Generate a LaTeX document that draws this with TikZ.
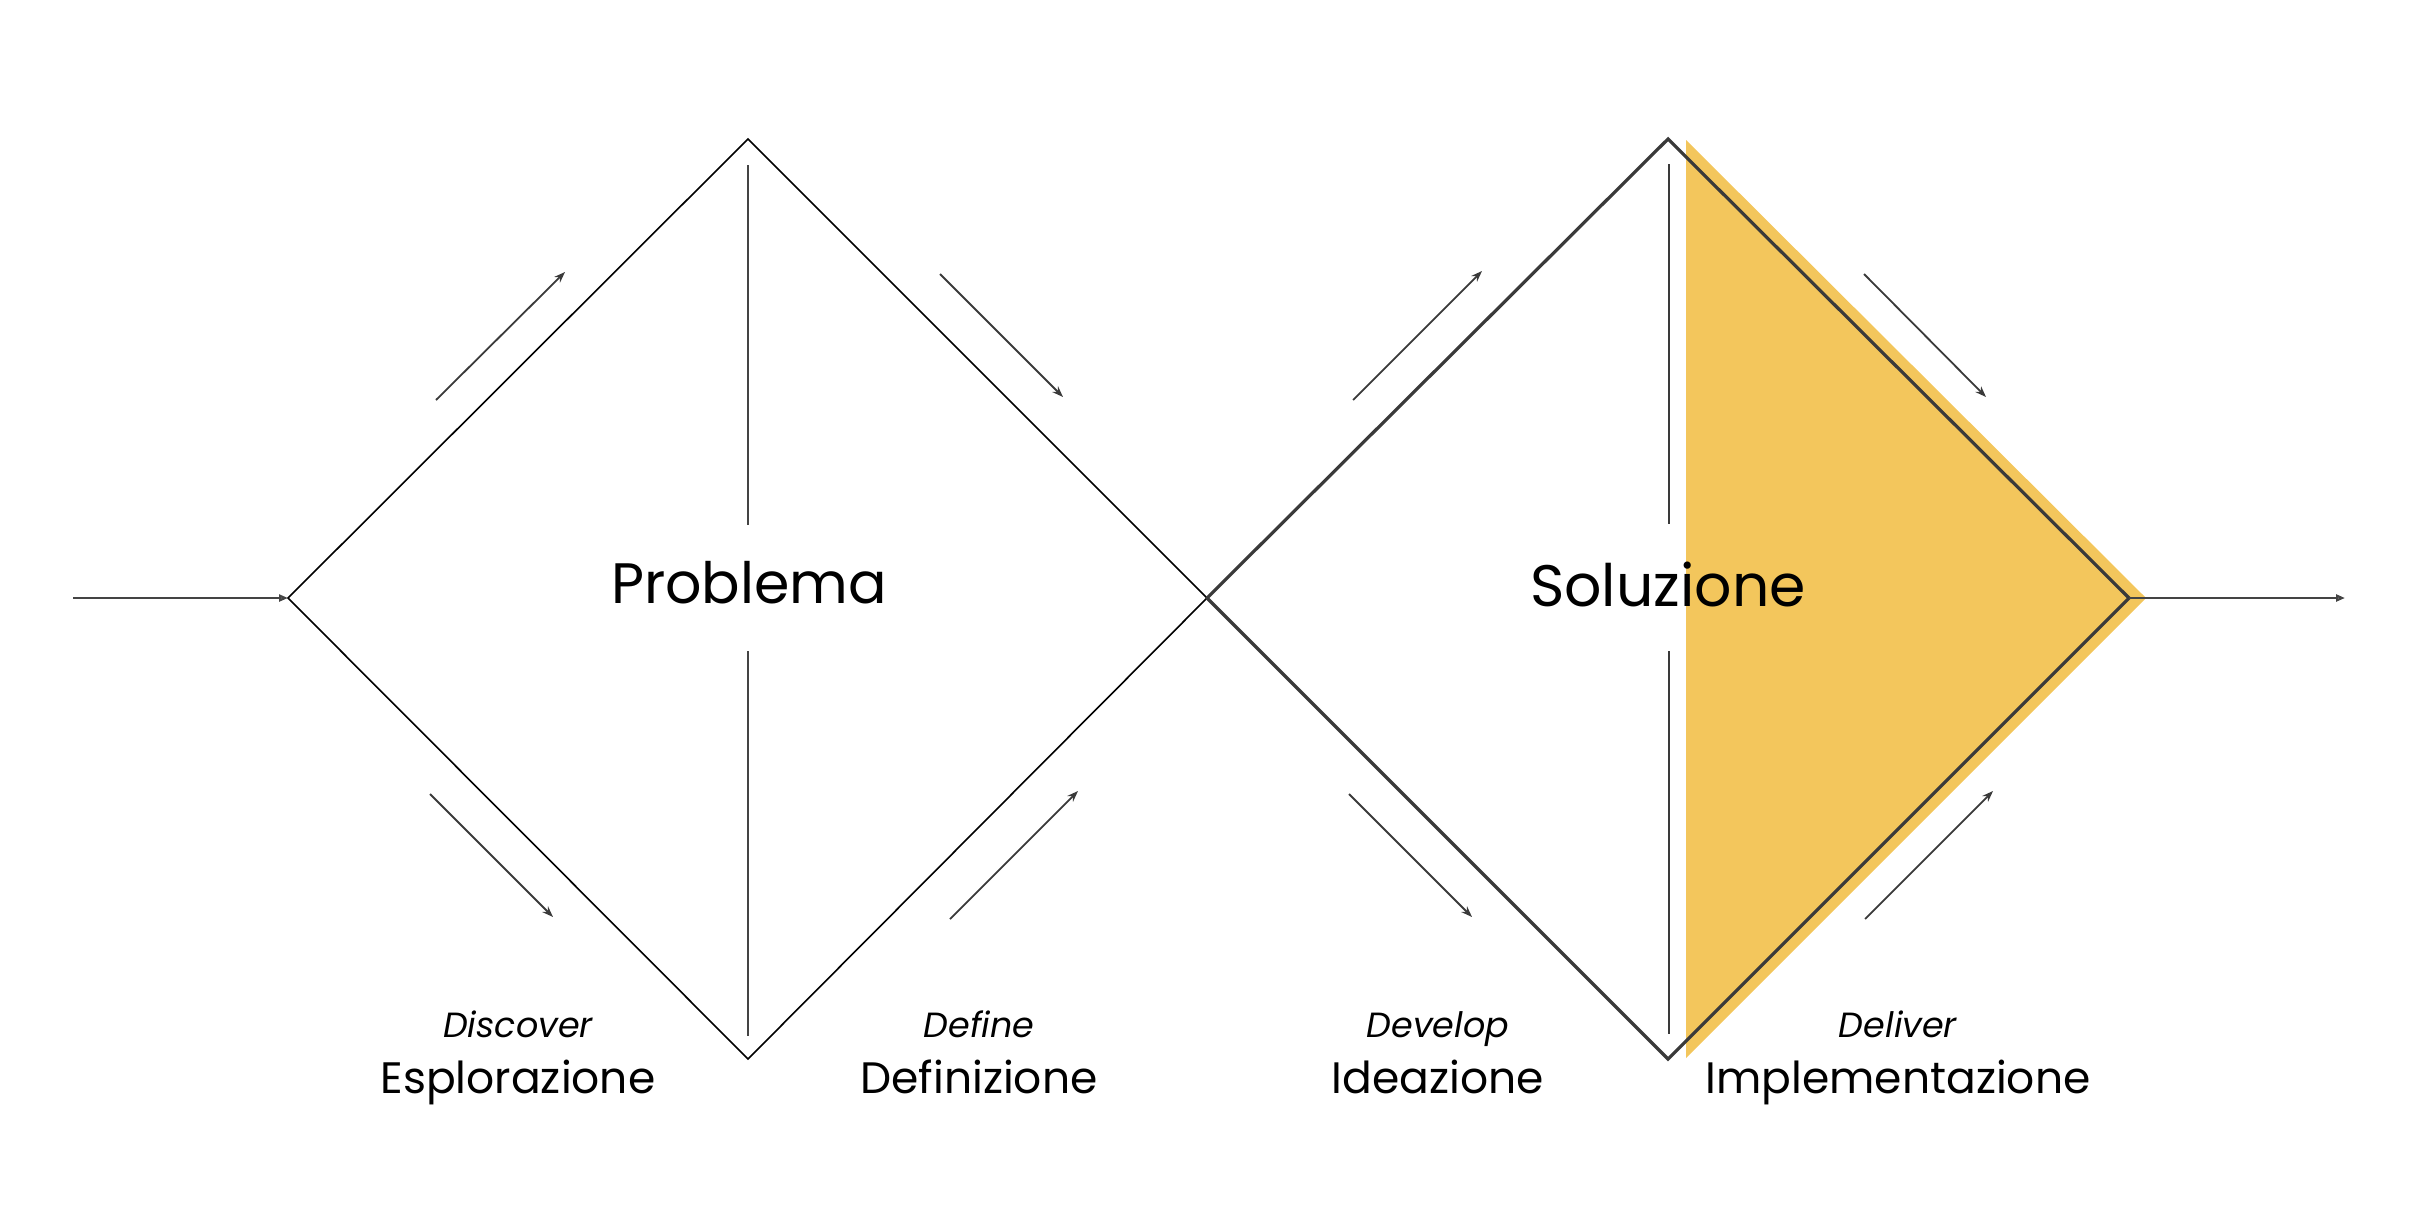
\documentclass[tikz,border=0pt]{standalone}
\usepackage{fontspec}
\setmainfont{Poppins}
\usetikzlibrary{arrows.meta}
\definecolor{dgold}{HTML}{F3C65C}
\definecolor{dline}{HTML}{3A3A3A}
\definecolor{gline}{HTML}{444444}
\tikzset{
  thinedge/.style={draw=black, line width=1.6pt, line join=miter},
  thickedge/.style={draw=dline, line width=3.2pt, line join=miter},
  axis1/.style={draw=gline, line width=1.8pt},
  axis2/.style={draw=dline, line width=2.4pt},
  flowarrow/.style={draw=gline, line width=2.2pt, -{Triangle[open,length=9pt,width=7pt]}},
  diagarrow/.style={draw=dline, line width=1.8pt, -{Stealth[length=11pt,width=8pt]}},
  bigtitle/.style={font=\fontsize{57}{60}\selectfont, anchor=base, inner sep=0pt},
  phaseen/.style={font=\fontsize{35}{38}\selectfont\itshape, anchor=base, inner sep=0pt},
  phaseit/.style={font=\fontsize{44}{48}\selectfont, anchor=base, inner sep=0pt}
}
\begin{document}
\begin{tikzpicture}[x=1pt,y=-1pt]
\useasboundingbox (0,0) rectangle (2417,1210);
% vertices
\coordinate (L1) at (288,598);
\coordinate (T1) at (748,139);
\coordinate (B1) at (748,1059);
\coordinate (M) at (1207,598);
\coordinate (T2) at (1668,139);
\coordinate (B2) at (1668,1059);
\coordinate (R2) at (2129,598);
\coordinate (Y1) at (1686,140);
\coordinate (Y2) at (2146,598);
\coordinate (Y3) at (1686,1058);
\coordinate (startpt) at (73,598);
\coordinate (endpt) at (2345,598);
% yellow triangle
\fill[dgold] (Y1) -- (Y2) -- (Y3) -- cycle;
% diamond 1
\draw[thinedge] (M) -- (T1) -- (L1) -- (B1) -- cycle;
% diamond 2
\draw[thickedge] (M) -- (T2) -- (R2) -- (B2) -- cycle;
% axes
\coordinate (a1t) at (748,165); \coordinate (a1m) at (748,525);
\coordinate (a1n) at (748,651); \coordinate (a1b) at (748,1036);
\coordinate (a2t) at (1669,164); \coordinate (a2m) at (1669,524);
\coordinate (a2n) at (1669,651); \coordinate (a2b) at (1669,1034);
\draw[axis1] (a1t) -- (a1m);
\draw[axis1] (a1n) -- (a1b);
\draw[axis2] (a2t) -- (a2m);
\draw[axis2] (a2n) -- (a2b);
% in/out arrows
\draw[flowarrow] (startpt) -- (L1);
\draw[flowarrow] (R2) -- (endpt);
% diagonal arrows
\coordinate (d1s) at (436,400); \coordinate (d1e) at (565,272);
\coordinate (d2s) at (940,274); \coordinate (d2e) at (1063,397);
\coordinate (d3s) at (430,794); \coordinate (d3e) at (553,917);
\coordinate (d4s) at (950,919); \coordinate (d4e) at (1078,791);
\coordinate (d5s) at (1353,400); \coordinate (d5e) at (1482,271);
\coordinate (d6s) at (1864,274); \coordinate (d6e) at (1986,397);
\coordinate (d7s) at (1349,794); \coordinate (d7e) at (1472,917);
\coordinate (d8s) at (1865,919); \coordinate (d8e) at (1993,791);
\draw[diagarrow] (d1s) -- (d1e);
\draw[diagarrow] (d2s) -- (d2e);
\draw[diagarrow] (d3s) -- (d3e);
\draw[diagarrow] (d4s) -- (d4e);
\draw[diagarrow] (d5s) -- (d5e);
\draw[diagarrow] (d6s) -- (d6e);
\draw[diagarrow] (d7s) -- (d7e);
\draw[diagarrow] (d8s) -- (d8e);
% titles
\node[bigtitle] (problema) at (749,603) {Problema};
\node[bigtitle, font=\fontsize{58.5}{62}\selectfont] (soluzione) at (1668,606) {Soluzione};
% phases
\node[phaseen] (discover) at (518,1037) {Discover};
\node[phaseit] (esplorazione) at (518,1093) {Esplorazione};
\node[phaseen] (define) at (979,1037) {Define};
\node[phaseit] (definizione) at (979,1093) {Definizione};
\node[phaseen] (develop) at (1438,1037) {Develop};
\node[phaseit] (ideazione) at (1438,1093) {Ideazione};
\node[phaseen] (deliver) at (1898,1037) {Deliver};
\node[phaseit] (implementazione) at (1898,1093) {Implementazione};
\end{tikzpicture}
\end{document}
